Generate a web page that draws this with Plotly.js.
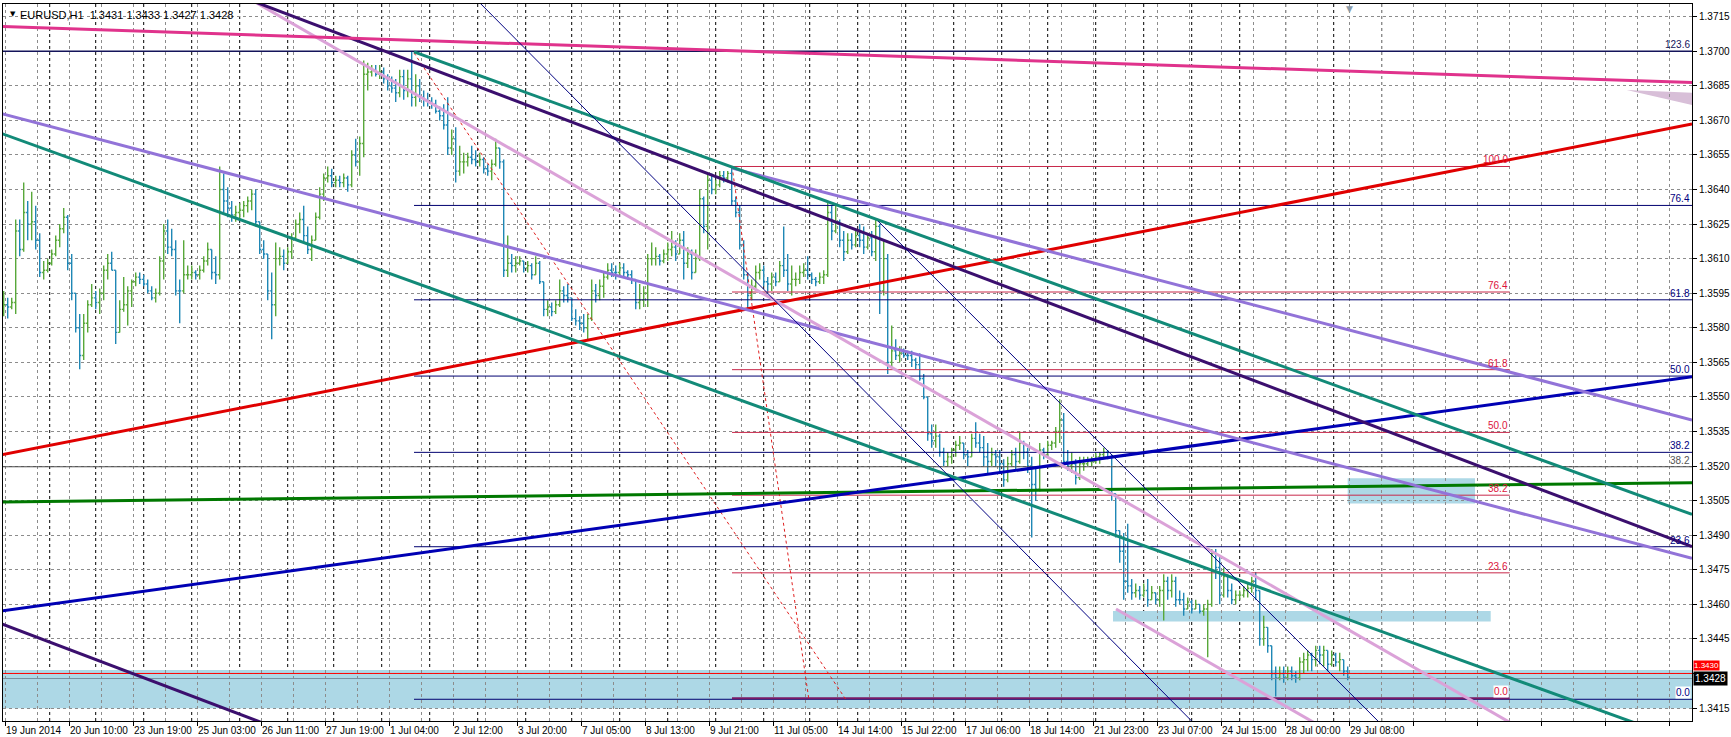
<!DOCTYPE html>
<html><head><meta charset="utf-8">
<script src="https://cdn.plot.ly/plotly-3.0.1.min.js"></script>
<style>html,body{margin:0;padding:0;background:#fff;overflow:hidden}#chart{width:1731px;height:737px}</style>
</head><body><div id="chart"></div>
<script>
// ---- price data (EURUSD, 2-hour steps), in pips above 1.3400 ----
const PIP_BASE = 1.34;
const stepStartBar = 1;      // bar index of the first step
const stepBars = 2;          // hourly bars per step
const firstOpen = 188;
const barHigh = [
196,193,193,227,227,243,235,239,233,221,
209,210,214,220,225,232,229,212,195,186,
186,192,199,196,197,207,212,213,205,192,
202,198,201,204,204,203,201,198,197,211,
225,227,223,218,201,218,207,207,205,207,
211,217,214,211,250,247,241,235,233,234,
235,237,240,240,226,218,212,204,217,215,
214,215,221,227,230,233,224,220,230,241,
247,250,249,246,246,247,246,257,262,263,
296,295,294,294,294,293,290,289,288,292,
292,292,300,290,288,283,282,280,279,276,
277,280,266,267,259,256,256,259,257,256,
254,251,253,262,258,253,220,212,211,211,
209,209,208,211,209,200,192,191,192,201,
198,199,193,188,185,186,186,201,199,201,
204,208,208,207,208,208,205,205,201,199,
198,212,217,215,212,214,217,222,218,221,
222,215,214,214,240,237,247,247,244,248,
248,248,250,237,233,218,204,201,207,208,
207,202,204,204,209,224,212,207,204,207,
208,211,204,202,204,205,235,233,234,227,
222,221,221,222,225,224,221,222,227,225,
218,212,181,175,172,171,170,170,167,169,
160,150,138,138,134,128,126,128,131,133,
130,127,134,139,134,133,130,128,127,127,
123,124,127,128,135,131,128,124,120,130,
128,131,131,137,149,143,127,126,123,124,
124,124,124,126,126,128,127,125,108,92,
91,95,71,69,68,69,71,68,65,68,
73,72,73,72,66,65,63,62,62,60,
60,62,84,84,81,76,73,69,66,66,
68,69,72,74,66,55,50,42,33,33,
33,33,33,31,37,39,40,39,42,42,
42,40,40,39,39,36,33];
const barLow = [
185,184,188,186,211,213,218,218,214,202,
201,204,207,211,215,221,205,192,178,162,
166,178,189,188,186,192,201,205,173,178,
187,181,189,198,199,198,195,192,191,194,
201,212,211,194,182,195,201,201,201,201,
204,207,201,199,201,230,228,226,226,227,
228,230,231,224,212,210,192,175,185,207,
205,208,210,218,221,217,212,209,218,227,
235,243,241,241,241,241,239,241,250,246,
254,283,289,289,288,286,283,282,278,280,
279,280,276,276,278,276,276,275,273,270,
266,255,255,243,246,247,250,251,250,250,
247,246,244,250,249,202,202,204,204,207,
204,204,201,203,199,185,185,185,186,189,
191,191,183,181,179,178,175,183,191,192,
193,201,202,201,202,202,201,199,188,188,
189,189,207,207,207,208,209,211,209,212,
201,206,201,204,209,221,214,238,238,241,
243,243,233,228,214,201,188,192,196,201,
198,195,196,198,200,202,196,194,198,199,
202,201,199,198,199,199,202,218,221,215,
209,212,214,215,215,212,214,211,209,186,
194,160,163,166,165,167,166,163,162,157,
149,131,128,128,124,120,120,121,124,127,
123,120,124,128,126,120,117,120,120,117,
111,113,120,118,121,123,117,89,105,109,
123,124,127,128,130,120,118,117,112,114,
118,120,120,121,121,123,123,105,89,78,
62,65,62,63,62,63,59,62,60,59,
53,62,63,59,60,55,58,56,58,56,
55,37,59,71,60,63,63,60,60,62,
63,63,65,62,42,42,39,27,20,27,
26,27,27,26,27,30,31,31,33,34,
33,31,33,33,31,29,27];
const barClose = [
190,189,191,222,214,230,225,226,218,204,
205,208,212,218,223,228,208,195,180,168,
182,190,193,191,195,205,208,205,178,188,
190,196,200,202,201,199,196,193,195,209,
222,215,214,196,196,203,203,204,203,205,
209,214,204,203,240,235,232,229,230,231,
233,235,238,226,214,212,196,190,210,211,
208,213,219,225,227,220,214,218,228,238,
245,246,243,244,243,245,242,255,252,260,
290,291,292,290,291,288,285,284,282,289,
283,288,280,285,280,279,278,277,274,272,
268,258,262,248,252,252,254,253,252,253,
249,248,251,258,252,205,208,207,208,209,
206,207,203,208,200,188,189,187,190,196,
194,193,184,183,182,180,184,196,194,198,
202,205,204,204,206,204,203,201,191,192,
195,210,210,211,209,212,214,215,212,218,
208,212,204,210,236,224,244,240,242,246,
245,247,235,230,216,203,194,198,204,205,
200,199,202,200,207,205,199,201,201,204,
205,203,201,200,202,203,230,222,226,218,
213,218,216,220,218,215,219,213,224,196,
210,165,170,168,169,168,168,166,164,158,
150,134,131,133,126,122,124,127,129,130,
125,124,132,130,128,124,122,125,124,121,
114,121,125,122,130,126,120,112,110,127,
125,129,130,135,140,122,120,121,115,121,
121,122,122,124,125,126,124,108,92,83,
70,68,65,66,64,66,62,65,62,66,
70,66,70,62,62,58,61,58,60,57,
58,60,82,76,64,72,66,62,64,64,
66,67,70,66,45,50,42,30,28,30,
28,31,29,28,35,36,38,36,40,38,
40,34,38,35,36,31,28];

// ---- time axis (bar index) ----
const timeTickIdx = [2,34,66,98,130,162,194,226,258,290,322,354,386,418,450,482,514,546,578,610,642,674];
const timeTickText = ['19 Jun 2014','20 Jun 10:00','23 Jun 19:00','25 Jun 03:00','26 Jun 11:00','27 Jun 19:00','1 Jul 04:00','2 Jul 12:00','3 Jul 20:00','7 Jul 05:00','8 Jul 13:00','9 Jul 21:00','11 Jul 05:00','14 Jul 14:00','15 Jul 22:00','17 Jul 06:00','18 Jul 14:00','21 Jul 23:00','23 Jul 07:00','24 Jul 15:00','28 Jul 00:00','29 Jul 08:00'];
const daySeparatorIdx = [24,47,71,95,119,143,166,190,214,238,262,285,309,333,357,381,404,428,452,476,500,523,547,571,595,619,642,666,690];
// price scale (the 1.3430 label is hidden under the price tags)
const priceTickVals = [1.3415,1.3430,1.3445,1.3460,1.3475,1.3490,1.3505,1.3520,1.3535,1.3550,1.3565,1.3580,1.3595,1.3610,1.3625,1.3640,1.3655,1.3670,1.3685,1.3700,1.3715];
const priceTickText = ['1.3415','','1.3445','1.3460','1.3475','1.3490','1.3505','1.3520','1.3535','1.3550','1.3565','1.3580','1.3595','1.3610','1.3625','1.3640','1.3655','1.3670','1.3685','1.3700','1.3715'];

// ---- drawn objects: anchor points (bar index, price) ----
const magentaT = [0.65, 845.15],  magentaP = [1.37107, 1.36864];
const purpleUpT = [100, 845.15],  purpleUpP = [1.37302, 1.34850];
const purpleLoT = [0, 140],       purpleLoP = [1.34515, 1.34054];
const tealUpT = [206.15, 845.15], tealUpP = [1.36997, 1.34990];
const tealLoT = [0, 845.15],      tealLoP = [1.36643, 1.33996];
const lavUpT = [365.15, 845.15],  lavUpP = [1.36493, 1.35400];
const lavLoT = [0, 845.15],       lavLoP = [1.36729, 1.34800];
const pinkAT = [119.15, 799.15],  pinkAP = [1.37251, 1.33863];
const pinkBT = [557.15, 659.15],  pinkBP = [1.34580, 1.34072];
const thinAT = [234.15, 599.15],  thinAP = [1.37253, 1.34057];
const thinBT = [438.15, 691.65],  thinBP = [1.36263, 1.34063];
const redT = [0, 845.15],         redP = [1.35249, 1.36684];
const blueT = [0, 845.15],        blueP = [1.34571, 1.35588];
const greenT = [0, 845.15],       greenP = [1.35044, 1.35128];
const fibDotAT = [206.15, 422],   fibDotAP = [1.36993, 1.34188];
const fibDotBT = [365.15, 403.5], fibDotBP = [1.36500, 1.34192];
const level1370 = 1.3700, level382gray = 1.35197;
const bidPrice = 1.34278, alertPrice = 1.3430;

const navyFibStart = 206.15, navyFib0 = 1.34188, navyFib100 = 1.36993;
const navyFibLevels = [0, 23.6, 38.2, 50, 61.8, 76.4];
const redFibStart = 365.15, redFibEnd = 754, redFib0 = 1.34192, redFib100 = 1.36500;
const redFibLevels = [0, 23.6, 38.2, 50, 61.8, 76.4, 100];

const rectBottomT = [0, 845.15],      rectBottomP = [1.34149, 1.34315];
const rectMidT = [555.65, 744.5],     rectMidP = [1.34525, 1.34571];
const rectTopT = [673, 736.65],       rectTopP = [1.35038, 1.35147];
const triT = [812.5, 845.15, 845.15], triP = [1.36832, 1.36820, 1.36767];

// ---- build ----
const X0 = 0.65, X1 = 845.15, YTOP = 1.372051, YBOT = 1.340937;
const px = v => PIP_BASE + v/10000;
const xs = [], O = [], H = [], L = [], C = [];
for (let j = 0; j < barClose.length; j++) {
  xs.push(stepStartBar + stepBars*j);
  O.push(px(j === 0 ? firstOpen : barClose[j-1]));
  H.push(px(barHigh[j])); L.push(px(barLow[j])); C.push(px(barClose[j]));
}

const shapes = [];
function seg(t, p, color, width, dash, layer) {
  shapes.push({type:'line', xref:'x', yref:'y', x0:t[0], y0:p[0], x1:t[1], y1:p[1],
    line:{color:color, width:width, dash:dash||'solid'}, layer:layer||'above'});
}
function hline(y, t0, t1, color, width, layer) { seg([t0, t1], [y, y], color, width, 'solid', layer); }
function rect(t, p, color) {
  shapes.push({type:'rect', xref:'x', yref:'y', x0:t[0], x1:t[1], y0:p[0], y1:p[1],
    fillcolor:color, line:{width:0}, layer:'below'});
}
rect(rectBottomT, rectBottomP, '#add8e6');
rect(rectMidT, rectMidP, '#add8e6');
rect(rectTopT, rectTopP, '#add8e6');
shapes.push({type:'path', xref:'x', yref:'y', layer:'below', fillcolor:'#d8bfd8', line:{width:0},
  path:'M'+triT[0]+','+triP[0]+' L'+triT[1]+','+triP[1]+' L'+triT[2]+','+triP[2]+' Z'});
daySeparatorIdx.forEach(d => shapes.push({type:'line', xref:'x', yref:'paper', x0:d, x1:d, y0:0, y1:1,
  line:{color:'#000000', width:1, dash:'3px,3px'}, layer:'between'}));

// horizontal levels
hline(level1370, X0, X1, '#14145a', 1.5);
hline(level382gray, X0, X1, '#4a4a4a', 1);
hline(alertPrice, X0, X1, '#ff0000', 1);
hline(bidPrice, X0, X1, '#7890a0', 1);
navyFibLevels.forEach(l => hline(navyFib0 + (navyFib100-navyFib0)*l/100, navyFibStart, X1, '#000070', 1));
redFibLevels.forEach(l => {
  const y = redFib0 + (redFib100-redFib0)*l/100;
  if (l === 0) hline(y, redFibStart, redFibEnd, '#7a1a66', 2);
  else hline(y, redFibStart, redFibEnd, '#c8284a', 1);
});
seg(fibDotAT, fibDotAP, '#e02020', 1, 'dot');
seg(fibDotBT, fibDotBP, '#e02020', 1, 'dot');
// trend lines
seg(greenT, greenP, '#007800', 3);
seg(blueT, blueP, '#0000b4', 3);
seg(redT, redP, '#e00000', 3);
seg(lavUpT, lavUpP, '#9273d8', 3);
seg(lavLoT, lavLoP, '#9273d8', 3);
seg(pinkAT, pinkAP, '#dba2d8', 3);
seg(pinkBT, pinkBP, '#dba2d8', 3);
seg(tealUpT, tealUpP, '#128a78', 3);
seg(tealLoT, tealLoP, '#128a78', 3);
seg(purpleUpT, purpleUpP, '#3b0f6e', 3);
seg(purpleLoT, purpleLoP, '#3b0f6e', 3);
seg(magentaT, magentaP, '#e0338c', 3);
seg(thinAT, thinAP, '#000080', 1);
seg(thinBT, thinBP, '#000080', 1);

const FONT = 'Liberation Sans, Arial, sans-serif';
const annotations = [];
timeTickIdx.forEach((t, k) => annotations.push({x:t, y:0, xref:'x', yref:'paper', xanchor:'left', yanchor:'top',
  yshift:-2, xshift:-2, text:timeTickText[k], showarrow:false, font:{family:FONT, size:10, color:'#000'}}));
function lab(x, y, text, color, bg) {
  annotations.push({x:x, y:y, xref:'x', yref:'y', xanchor:'right', yanchor:'bottom', text:text, showarrow:false,
    font:{family:FONT, size:10, color:color}, bgcolor:bg||'rgba(0,0,0,0)', borderpad:0, xshift:-1, yshift:0});
}
lab(X1, level1370, '123.6', '#14145a');
lab(X1, level382gray, '38.2', '#555555');
navyFibLevels.forEach(l => lab(X1, navyFib0 + (navyFib100-navyFib0)*l/100, l.toFixed(1), '#000080', l === 0 ? '#ffffff' : null));
redFibLevels.forEach(l => lab(redFibEnd, redFib0 + (redFib100-redFib0)*l/100, l.toFixed(1), '#dc143c', l === 0 ? '#ffffff' : null));
annotations.push({x:0, y:1, xref:'paper', yref:'paper', xanchor:'left', yanchor:'top', xshift:5, yshift:-4,
  text:'▼', showarrow:false, font:{family:'DejaVu Sans', size:7, color:'#000'}});
annotations.push({x:0, y:1, xref:'paper', yref:'paper', xanchor:'left', yanchor:'top', xshift:15, yshift:-3,
  text:'EURUSD,H1  1.3431 1.3433 1.3427 1.3428', showarrow:false, font:{family:FONT, size:11, color:'#000'}});
annotations.push({x:674, y:1, xref:'x', yref:'paper', xanchor:'center', yanchor:'top', yshift:2,
  text:'▼', showarrow:false, font:{family:'DejaVu Sans', size:9, color:'#8a9aa8'}});
// current-price tags: black bid tag, red alert tag stacked directly above it
annotations.push({x:1, y:bidPrice, xref:'paper', yref:'y', xanchor:'left', yanchor:'middle', xshift:1,
  text:'1.3428', showarrow:false, bgcolor:'#000000', font:{family:FONT, size:10, color:'#fff'}, borderpad:1});
annotations.push({x:1, y:bidPrice, xref:'paper', yref:'y', xanchor:'left', yanchor:'bottom', xshift:1, yshift:8,
  text:'1.3430', showarrow:false, bgcolor:'#ff0000', font:{family:FONT, size:8, color:'#fff'}, borderpad:0});

const trace = {type:'ohlc', x:xs, open:O, high:H, low:L, close:C, tickwidth:0.4,
  increasing:{line:{color:'#58a83a', width:1.4}}, decreasing:{line:{color:'#1f87b5', width:1.4}}, hoverinfo:'skip'};

const layout = {
  width:1731, height:737, margin:{l:3, r:39, t:4, b:16, pad:0},
  paper_bgcolor:'#ffffff', plot_bgcolor:'#ffffff', showlegend:false, dragmode:false,
  font:{family:FONT, size:10, color:'#000'},
  xaxis:{range:[X0, X1], tickmode:'linear', tick0:2, dtick:32, showgrid:true, gridcolor:'#8c8c8c', griddash:'3px,3px', gridwidth:1,
    ticks:'outside', ticklen:4, tickcolor:'#000', showticklabels:false, showline:true, linecolor:'#000', mirror:true,
    zeroline:false, fixedrange:true, rangeslider:{visible:false},
    minor:{tick0:18, dtick:32, showgrid:true, gridcolor:'#8c8c8c', griddash:'3px,3px', gridwidth:1, ticks:''}},
  yaxis:{range:[YBOT, YTOP], side:'right', tickmode:'array', tickvals:priceTickVals, ticktext:priceTickText,
    showgrid:true, gridcolor:'#8c8c8c', griddash:'3px,3px', gridwidth:1, ticks:'outside', ticklen:4, tickcolor:'#000',
    showline:true, linecolor:'#000', mirror:true, zeroline:false, fixedrange:true, tickfont:{family:FONT, size:10, color:'#000'}},
  shapes:shapes, annotations:annotations
};
Plotly.newPlot('chart', [trace], layout, {staticPlot:true, displayModeBar:false});
</script></body></html>
